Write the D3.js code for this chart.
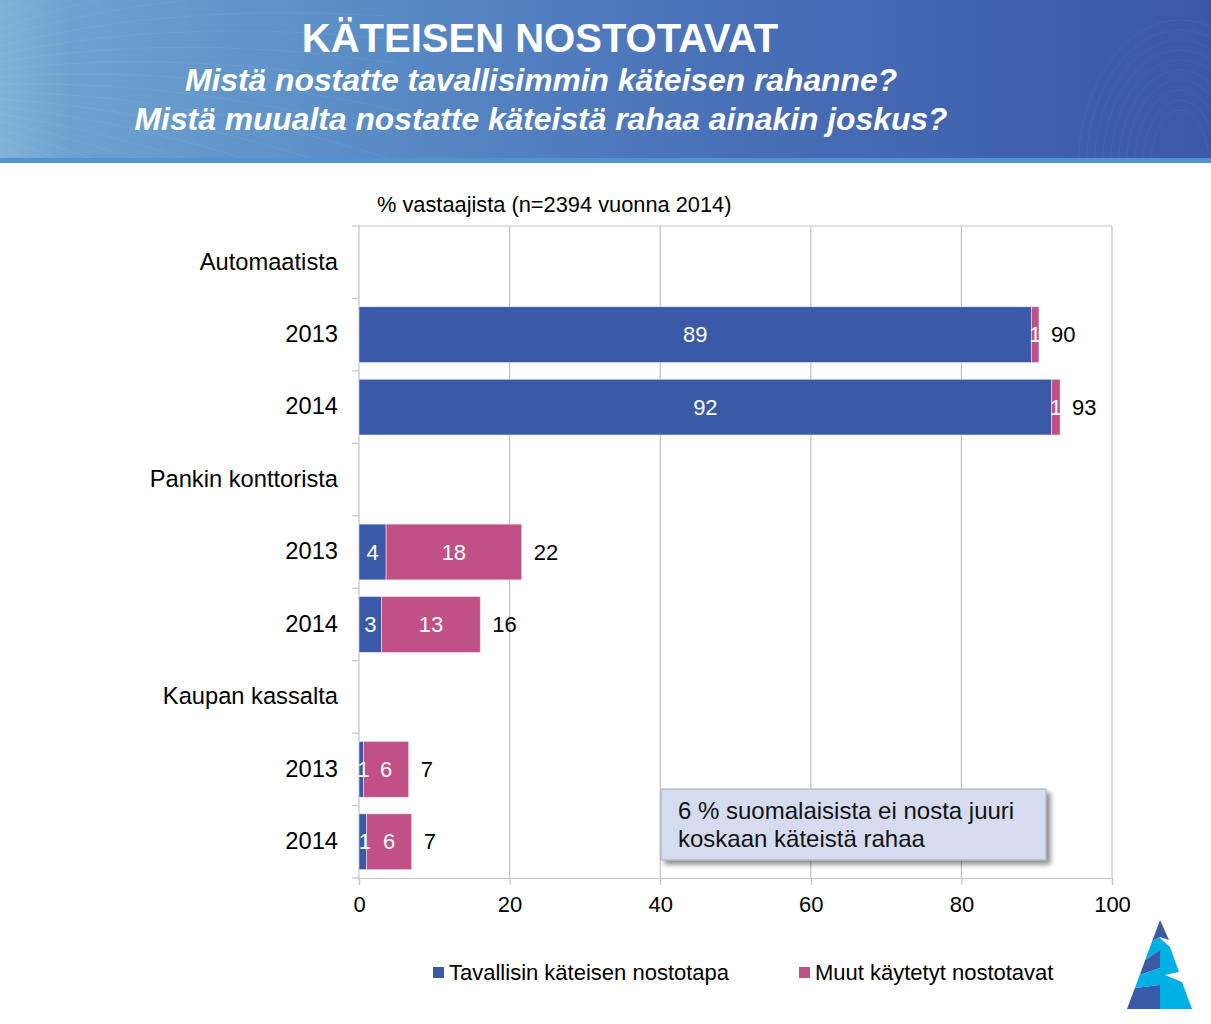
<!DOCTYPE html>
<html><head><meta charset="utf-8">
<script src="https://cdn.jsdelivr.net/npm/d3@7"></script>
<style>body{margin:0;background:#fff;}svg{display:block;font-family:"Liberation Sans",Arial,sans-serif;}</style>
</head><body>
<svg id="c" width="1211" height="1024"></svg>
<script>
const rowLabels = ["Automaatista","2013","2014","Pankin konttorista","2013","2014","Kaupan kassalta","2013","2014"];
const commonValues = [null, 89.3, 92.0, null, 3.6, 3.0, null, 0.6, 1.0];
const otherValues  = [null, 1.0, 1.1, null, 18.0, 13.1, null, 6.0, 6.0];
const xTicks = [0, 20, 40, 60, 80, 100];
const seriesNames = ["Tavallisin käteisen nostotapa", "Muut käytetyt nostotavat"];
const titleText = "KÄTEISEN NOSTOTAVAT";
const subtitles = ["Mistä nostatte tavallisimmin käteisen rahanne?", "Mistä muualta nostatte käteistä rahaa ainakin joskus?"];
const unitLabel = "% vastaajista (n=2394 vuonna 2014)";
const noteLines = ["6 % suomalaisista ei nosta juuri", "koskaan käteistä rahaa"];

(function(){
const BLUE = "#3a5aa8", PINK = "#c05085", GRID = "#c3c3c3", CYAN = "#00afe3";
const svg = d3.select("#c");
const defs = svg.append("defs");

// ---- header banner ----
const g = defs.append("linearGradient").attr("id","hdr").attr("x1","0").attr("x2","1").attr("y1","0").attr("y2","0");
g.append("stop").attr("offset","0").attr("stop-color","#7fb3d8");
g.append("stop").attr("offset","0.06").attr("stop-color","#6ca2d0");
g.append("stop").attr("offset","0.3").attr("stop-color","#5a8cc6");
g.append("stop").attr("offset","0.6").attr("stop-color","#4970b7");
g.append("stop").attr("offset","1").attr("stop-color","#3a58a6");
svg.append("rect").attr("x",0).attr("y",0).attr("width",1211).attr("height",161).attr("fill","url(#hdr)");
const deco = svg.append("g").attr("fill","none").attr("stroke","#ffffff").attr("stroke-width",0.8);
for (let i = 0; i < 30; i++) {
  const a = -1.1 + i * 0.075;
  deco.append("path").attr("d",`M${-120+60*Math.cos(a)},${95+60*Math.sin(a)} Q${-120+280*Math.cos(a)},${95+200*Math.sin(a)} ${-120+520*Math.cos(a+0.25)},${95+320*Math.sin(a+0.25)}`)
    .attr("stroke-opacity",0.08);
}
for (let i = 0; i < 10; i++) {
  deco.append("ellipse").attr("cx",1180).attr("cy",170).attr("rx",30 + i*8).attr("ry",60 + i*10).attr("stroke-opacity",0.06);
}
svg.append("rect").attr("x",0).attr("y",158).attr("width",1211).attr("height",5).attr("fill","#4f93d3");

svg.append("text").attr("x",540).attr("y",52).attr("text-anchor","middle").attr("fill","#fff")
  .attr("font-weight","bold").attr("font-size",40).text(titleText);
subtitles.forEach((s,i) => {
  svg.append("text").attr("x",541).attr("y",91 + i*39).attr("text-anchor","middle").attr("fill","#fff")
    .attr("font-weight","bold").attr("font-style","italic").attr("font-size",31.8).text(s);
});

// ---- chart ----
const pl = 359, pr = 1112, pt = 226, pb = 878;
const x = d3.scaleLinear().domain([0,100]).range([pl,pr]);
const idx = rowLabels.map((d,i) => i);
const y = d3.scaleBand().domain(idx).range([pt,pb]).paddingInner(0.23).paddingOuter(0.115);
const step = y.step();

svg.append("g").selectAll("line").data(xTicks.slice(1)).join("line")
  .attr("x1",d=>x(d)).attr("x2",d=>x(d)).attr("y1",pt).attr("y2",pb)
  .attr("stroke",GRID).attr("stroke-width",1.2);
svg.append("line").attr("x1",pl).attr("x2",pr).attr("y1",pt).attr("y2",pt).attr("stroke",GRID).attr("stroke-width",1.2);

const xAxis = svg.append("g").attr("transform",`translate(0,${pb})`)
  .call(d3.axisBottom(x).tickValues(xTicks).tickSize(7).tickPadding(11).tickFormat(d3.format("d")));
xAxis.select(".domain").attr("stroke",GRID).attr("stroke-width",1.2);
xAxis.selectAll(".tick line").attr("stroke",GRID).attr("stroke-width",1.2);
xAxis.selectAll("text").attr("font-size",22).attr("fill","#000").attr("font-family","Liberation Sans, Arial, sans-serif");

svg.append("line").attr("x1",pl).attr("x2",pl).attr("y1",pt).attr("y2",pb).attr("stroke",GRID).attr("stroke-width",1.2);
const bounds = d3.range(rowLabels.length + 1).map(i => pt + i*step);
svg.append("g").selectAll("line").data(bounds).join("line")
  .attr("x1",pl-7).attr("x2",pl).attr("y1",d=>d).attr("y2",d=>d).attr("stroke",GRID).attr("stroke-width",1.2);
svg.append("g").selectAll("text").data(idx).join("text")
  .attr("x",338).attr("y",i => y(i) + y.bandwidth()/2 - 1).attr("dy","0.35em")
  .attr("text-anchor","end").attr("font-size",23.7).attr("fill","#000").text(i => rowLabels[i]);

const rows = idx.filter(i => commonValues[i] != null).map(i => ({i, a: commonValues[i], b: otherValues[i]}));
const bars = svg.append("g");
bars.selectAll("rect.a").data(rows).join("rect").attr("class","a")
  .attr("x",x(0)).attr("y",d=>y(d.i)).attr("width",d=>x(d.a)-x(0)).attr("height",y.bandwidth())
  .attr("fill",BLUE).attr("stroke","#e8e8f2").attr("stroke-width",0.6);
bars.selectAll("rect.b").data(rows).join("rect").attr("class","b")
  .attr("x",d=>x(d.a)).attr("y",d=>y(d.i)).attr("width",d=>x(d.a+d.b)-x(d.a)).attr("height",y.bandwidth())
  .attr("fill",PINK).attr("stroke","#f0e0ea").attr("stroke-width",0.6);

const lbl = svg.append("g").attr("font-size",22);
lbl.selectAll("text.a").data(rows).join("text").attr("class","a")
  .attr("x",d=>(x(0)+x(d.a))/2 + (d.a < 2 ? 2 : 0)).attr("y",d=>y(d.i)+y.bandwidth()/2).attr("dy","0.35em")
  .attr("text-anchor","middle").attr("fill","#fff").text(d=>Math.round(d.a));
lbl.selectAll("text.b").data(rows).join("text").attr("class","b")
  .attr("x",d=>(x(d.a)+x(d.a+d.b))/2).attr("y",d=>y(d.i)+y.bandwidth()/2).attr("dy","0.35em")
  .attr("text-anchor","middle").attr("fill","#fff").text(d=>Math.round(d.b));
lbl.selectAll("text.t").data(rows).join("text").attr("class","t")
  .attr("x",d=>x(d.a+d.b)+12).attr("y",d=>y(d.i)+y.bandwidth()/2).attr("dy","0.35em")
  .attr("text-anchor","start").attr("fill","#000").text(d=>Math.round(d.a+d.b));

svg.append("text").attr("x",377).attr("y",212).attr("font-size",21.8).attr("fill","#000").text(unitLabel);

const f = defs.append("filter").attr("id","sh").attr("x","-10%").attr("y","-10%").attr("width","130%").attr("height","140%");
f.append("feDropShadow").attr("dx",4).attr("dy",4).attr("stdDeviation",2.5).attr("flood-color","#000").attr("flood-opacity",0.45);
svg.append("rect").attr("x",661).attr("y",789).attr("width",385).attr("height",71)
  .attr("fill","#d5dcf0").attr("stroke","#a8a8b0").attr("stroke-width",1).attr("filter","url(#sh)");
noteLines.forEach((t,i) => {
  svg.append("text").attr("x",678).attr("y",819 + i*28).attr("font-size",24).attr("fill","#111").text(t);
});

const legendItems = [{name: seriesNames[0], color: BLUE, x: 433}, {name: seriesNames[1], color: PINK, x: 799}];
const lg = svg.append("g").selectAll("g").data(legendItems).join("g").attr("transform",d=>`translate(${d.x},967)`);
lg.append("rect").attr("width",11).attr("height",11).attr("fill",d=>d.color);
lg.append("text").attr("x",16).attr("y",13).attr("font-size",22).attr("fill","#000").text(d=>d.name);

// logo (decorative)
const logo = svg.append("g");
const shapes = [
  {c: BLUE, p: [[1152.2,941],[1160,920],[1169,940],[1160,937]]},
  {c: CYAN, p: [[1160,937],[1152.2,941],[1145.2,960],[1160,950]]},
  {c: BLUE, p: [[1160,950],[1145.2,960],[1139.7,975],[1160,968]]},
  {c: CYAN, p: [[1160,968],[1139.7,975],[1134.9,988],[1160,985]]},
  {c: BLUE, p: [[1160,985],[1134.9,988],[1127,1009],[1160,1009]]},
  {c: CYAN, p: [[1160,938],[1170,947],[1179,972],[1165,975],[1182,982],[1192,1009],[1160,1009]]}
];
logo.selectAll("path").data(shapes).join("path")
  .attr("d", d => "M" + d.p.map(q => q.join(",")).join("L") + "Z").attr("fill", d => d.c);
})();
</script>
</body></html>
